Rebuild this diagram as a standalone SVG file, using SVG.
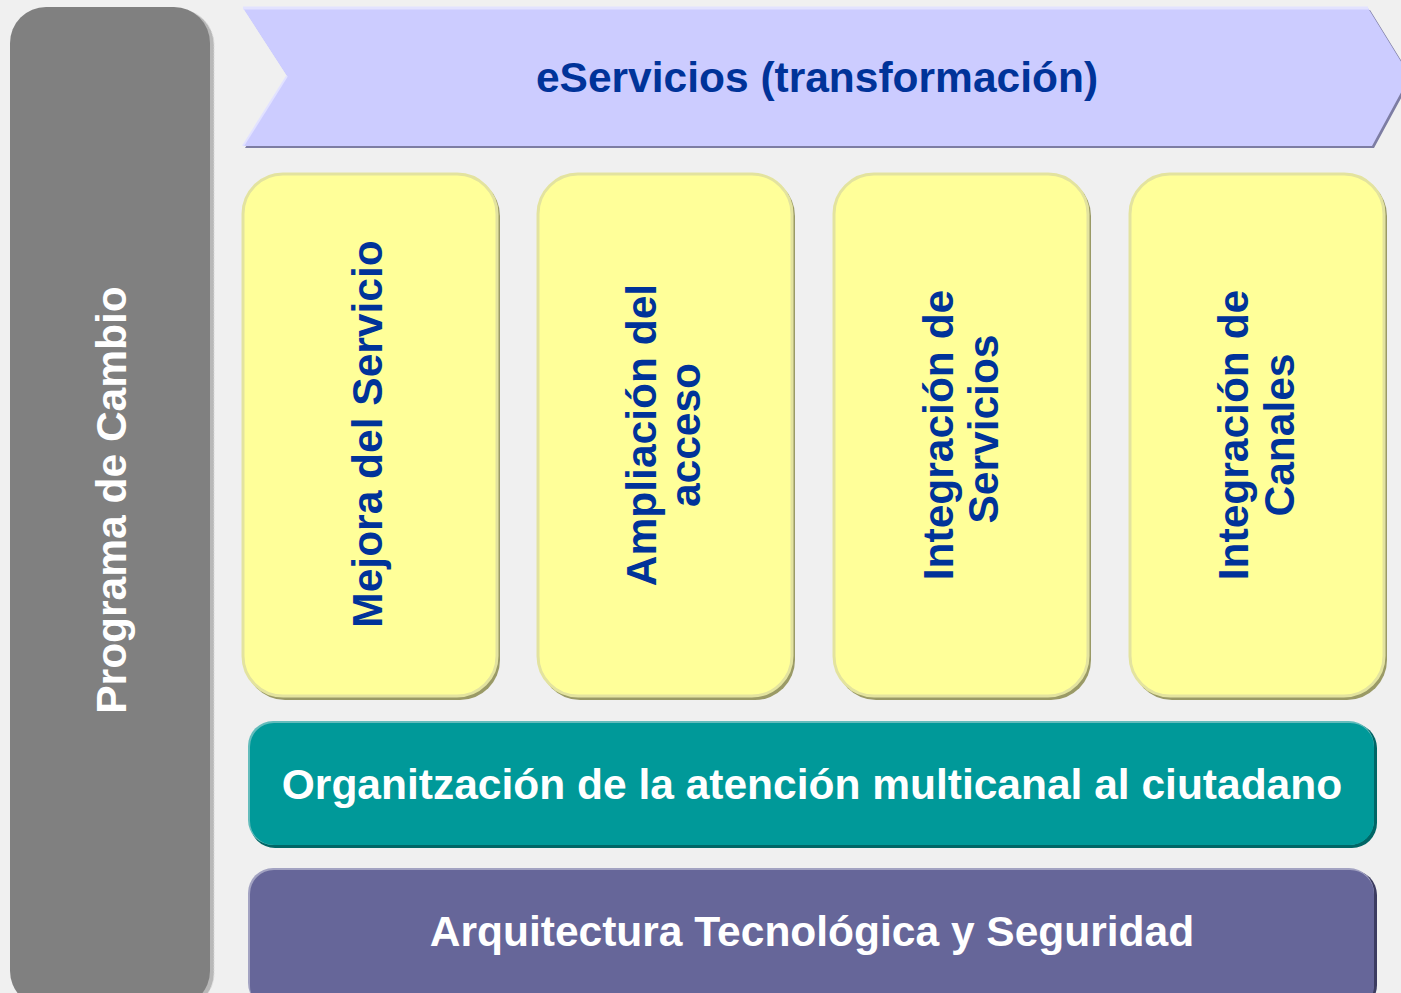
<svg xmlns="http://www.w3.org/2000/svg" width="1401" height="993" viewBox="0 0 1401 993">
<style>
.t{font-family:"Liberation Sans",Arial,sans-serif;font-weight:bold;font-size:42.5px}
.blue{fill:#003399}
.white{fill:#ffffff}
.ybox{fill:#ffff99;stroke:#e3e39f;stroke-width:3}
.yshadow{fill:#9a9a66}
</style>
<rect width="1401" height="993" fill="#f0f0f0"/>
<g id="programa">
<rect x="13" y="9" width="201" height="1000" rx="36" fill="#b8b8b8" stroke="#d8d8d8" stroke-width="1" stroke-dasharray="2 1"/>
<rect x="10" y="7" width="200" height="1000" rx="36" fill="#808080"/>
<text class="t white" transform="translate(126,500) rotate(-90)" text-anchor="middle">Programa de Cambio</text>
</g>
<g id="eservicios">
<polygon points="245,10 1370,10 1412,78 1374,148 245,148 289,78" fill="#7d7da3"/>
<polygon points="243,8 1368,8 1410,76 1372,146 243,146 287,76" fill="#ccccff"/>
<polyline points="243,8 1368,8" fill="none" stroke="#e2e2ff" stroke-width="3"/>
<polyline points="287,76 243,146" fill="none" stroke="#e2e2ff" stroke-width="2"/>
<text class="t blue" x="817" y="92" text-anchor="middle">eServicios (transformación)</text>
</g>
<g id="mejora">
<rect class="yshadow" x="245" y="176" width="255" height="524" rx="40"/>
<rect class="ybox" x="243" y="174" width="254" height="522" rx="40"/>
<text class="t blue" transform="translate(382,434) rotate(-90)" text-anchor="middle">Mejora del Servicio</text>
</g>
<g id="ampliacion">
<rect class="yshadow" x="540" y="176" width="255" height="524" rx="40"/>
<rect class="ybox" x="538" y="174" width="254" height="522" rx="40"/>
<text class="t blue" transform="translate(656,435) rotate(-90)" text-anchor="middle">Ampliación del</text>
<text class="t blue" transform="translate(700,435) rotate(-90)" text-anchor="middle">acceso</text>
</g>
<g id="integracion-servicios">
<rect class="yshadow" x="836" y="176" width="255" height="524" rx="40"/>
<rect class="ybox" x="834" y="174" width="254" height="522" rx="40"/>
<text class="t blue" transform="translate(953,435) rotate(-90)" text-anchor="middle">Integración de</text>
<text class="t blue" transform="translate(998,429) rotate(-90)" text-anchor="middle">Servicios</text>
</g>
<g id="integracion-canales">
<rect class="yshadow" x="1132" y="176" width="255" height="524" rx="40"/>
<rect class="ybox" x="1130" y="174" width="254" height="522" rx="40"/>
<text class="t blue" transform="translate(1248,435) rotate(-90)" text-anchor="middle">Integración de</text>
<text class="t blue" transform="translate(1294,435) rotate(-90)" text-anchor="middle">Canales</text>
</g>
<g id="organizacion">
<rect x="250" y="723" width="1127" height="125" rx="25" fill="#006666"/>
<rect x="248" y="721" width="1126" height="124" rx="25" fill="#64bcbc"/>
<rect x="250" y="723" width="1124" height="122" rx="24" fill="#009999"/>
<text class="t white" x="812" y="799" text-anchor="middle">Organitzación de la atención multicanal al ciutadano</text>
</g>
<g id="arquitectura">
<rect x="250" y="870" width="1127" height="140" rx="25" fill="#3c3c60"/>
<rect x="248" y="868" width="1126" height="140" rx="25" fill="#a3a3c2"/>
<rect x="250" y="870" width="1124" height="140" rx="24" fill="#666699"/>
<text class="t white" x="812" y="946" text-anchor="middle">Arquitectura Tecnológica y Seguridad</text>
</g>
<g id="connectors"/>
</svg>
